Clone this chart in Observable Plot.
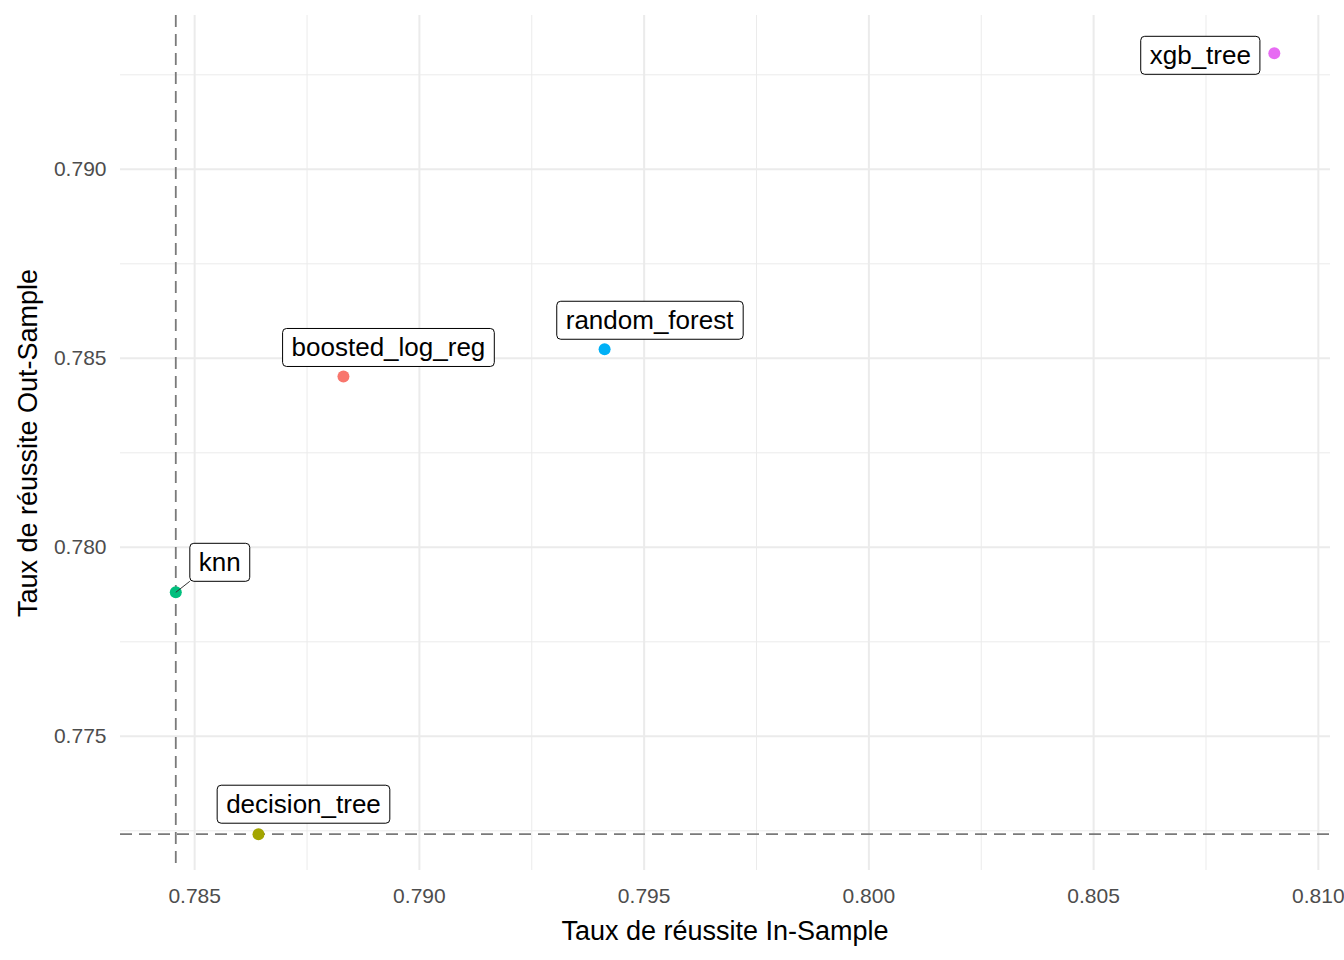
<!DOCTYPE html>
<html><head><meta charset="utf-8">
<script src="https://cdn.jsdelivr.net/npm/d3@7"></script>
<script src="https://cdn.jsdelivr.net/npm/@observablehq/plot@0.6"></script>
<style>body{margin:0;background:#fff;font-family:"Liberation Sans",Arial,sans-serif}</style>
</head><body><div id="chart"></div>
<script>
const models = ["boosted_log_reg", "decision_tree", "knn", "random_forest", "xgb_tree"];
const inSample = [0.78831, 0.78642, 0.78458, 0.79412, 0.80902];
const outSample = [0.78452, 0.77241, 0.77881, 0.78524, 0.79307];
const colors = ["#F8766D", "#A3A500", "#00BF7D", "#00B0F6", "#E76BF3"];
const xTicks = [0.785, 0.790, 0.795, 0.800, 0.805, 0.810];
const yTicks = [0.775, 0.780, 0.785, 0.790];

const data = models.map((m, i) => ({model: m, x: inSample[i], y: outSample[i]}));
// label offsets (repel-like placement)
const off = {boosted_log_reg: [45, -20], decision_tree: [45, -21], knn: [44, -21], random_forest: [45, -20], xgb_tree: [-74, 11]};
const minX = d3.min(inSample), minY = d3.min(outSample);
const xMinor = xTicks.slice(1).map(t => t - 0.0025);
const yMinor = yTicks.map(t => t - 0.0025).concat([0.7925]);

const chart = Plot.plot({
  width: 1344, height: 960,
  marginLeft: 120, marginRight: 14, marginTop: 15, marginBottom: 90,
  style: {fontFamily: "Liberation Sans, Arial, sans-serif", fontSize: "21px", color: "#4d4d4d"},
  x: {domain: [0.78335, 0.81027], label: null},
  y: {domain: [0.77145, 0.79407], label: null},
  marks: [
    Plot.gridX(xMinor, {stroke: "#ebebeb", strokeOpacity: 1, strokeWidth: 1}),
    Plot.gridY(yMinor, {stroke: "#ebebeb", strokeOpacity: 1, strokeWidth: 1}),
    Plot.gridX(xTicks, {stroke: "#ebebeb", strokeOpacity: 1, strokeWidth: 2}),
    Plot.gridY(yTicks, {stroke: "#ebebeb", strokeOpacity: 1, strokeWidth: 2}),
    Plot.axisX({ticks: xTicks, tickFormat: d3.format(".3f"), tickSize: 0, tickPadding: 18, fill: "#4d4d4d", label: null}),
    Plot.axisY({ticks: yTicks, tickFormat: d3.format(".3f"), tickSize: 0, tickPadding: 14, fill: "#4d4d4d", label: null}),
    Plot.ruleX([minX], {stroke: "#7a7a7a", strokeDasharray: "12,7", strokeWidth: 1.8}),
    Plot.ruleY([minY], {stroke: "#7a7a7a", strokeDasharray: "12,7", strokeWidth: 1.8}),
    Plot.dot(data, {x: "x", y: "y", r: 6, fill: (d, i) => colors[i], stroke: "none"}),
    Plot.text(data, {x: "x", y: "y", text: "model", fontSize: 26, fill: "#000", className: "lbl"}),
  ]
});
document.getElementById("chart").append(chart);
const svg = d3.select(chart);
// move labels and draw boxes
svg.selectAll(".lbl text").each(function(d, i) {
  const m = data[i].model, [ox, oy] = off[m];
  const t = d3.select(this);
  const tr = t.attr("transform") || "";
  const mt = /translate\(([-\d.]+),([-\d.]+)\)/.exec(tr);
  let px = +t.attr("x") || 0, py = +t.attr("y") || 0;
  if (mt) { px += +mt[1]; py += +mt[2]; }
  t.attr("transform", null).attr("x", px + ox).attr("y", py + oy);
  const b = this.getBBox();
  const g = this.parentNode;
  d3.select(g).insert("rect", () => this)
    .attr("x", b.x - 9).attr("y", b.y - 4).attr("width", b.width + 18).attr("height", b.height + 8)
    .attr("rx", 4).attr("fill", "#fff").attr("stroke", "#000").attr("stroke-width", 1);
  if (m === "knn") {
    d3.select(g).insert("line", ":first-child").attr("x1", px).attr("y1", py).attr("x2", b.x - 9).attr("y2", b.y + b.height + 4)
      .attr("stroke", "#333");
  }
});
svg.append("text").attr("x", 725).attr("y", 940).attr("text-anchor", "middle")
  .attr("font-size", 27).attr("fill", "#000").text("Taux de réussite In-Sample");
svg.append("text").attr("transform", "translate(37,443) rotate(-90)").attr("text-anchor", "middle")
  .attr("font-size", 27).attr("fill", "#000").text("Taux de réussite Out-Sample");
</script></body></html>
